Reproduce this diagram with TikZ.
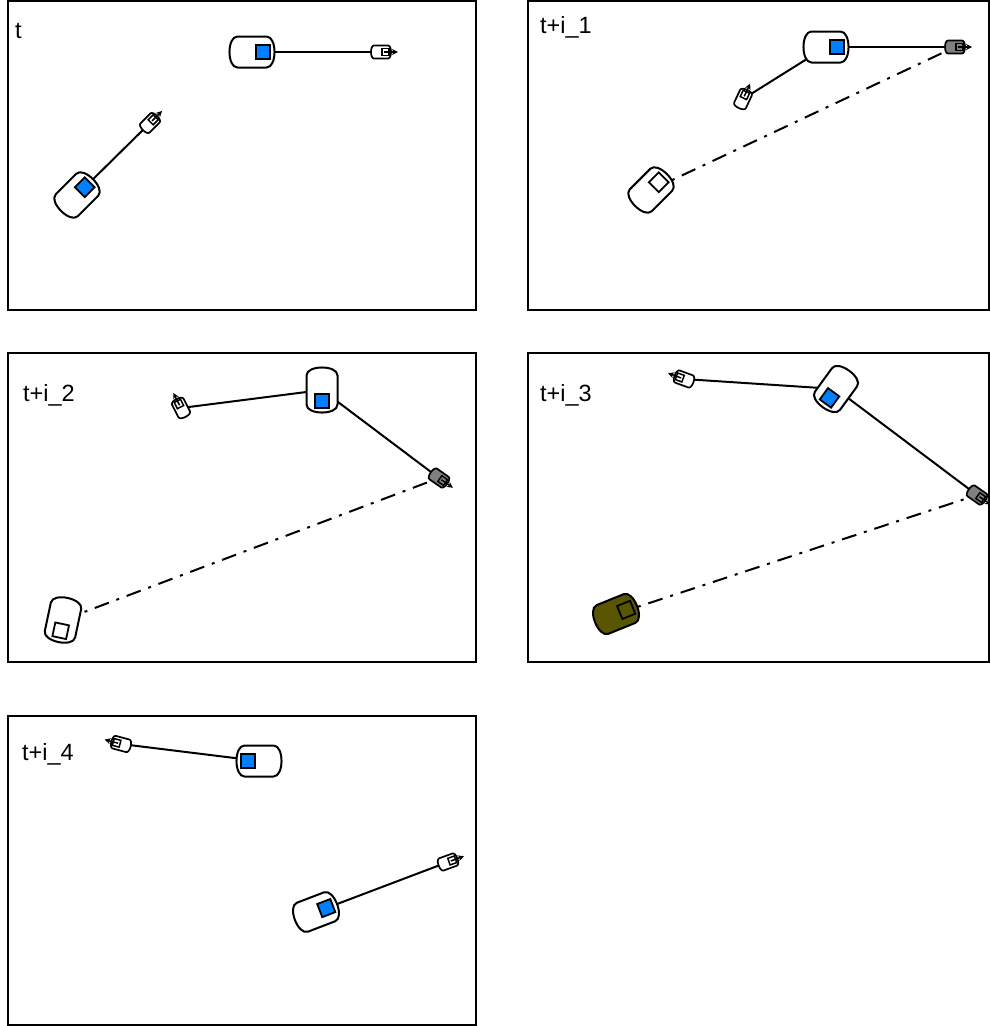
\documentclass[tikz,border=0pt]{standalone}
\usepackage{fontspec}
\setmainfont{Liberation Sans}
\usetikzlibrary{arrows.meta}
\pgfdeclarelayer{background}
\pgfsetlayers{background,main}
\definecolor{sqblue}{RGB}{0,128,255}
\definecolor{plgray}{RGB}{128,128,128}
\definecolor{ghostolive}{RGB}{90,85,0}

\tikzset{
  % capsule-shaped vehicle with a marker square at its front
  pics/robot/.style 2 args={code={
    \path[draw=black, line width=2pt, fill=#1, line join=round]
      (-14.5,-15.5) -- (14.5,-15.5)
      .. controls (25.2,-15.5) and (25.2,15.5) .. (14.5,15.5)
      -- (-14.5,15.5)
      .. controls (-25.2,15.5) and (-25.2,-15.5) .. (-14.5,-15.5) -- cycle;
    \path[draw=black, line width=1.8pt, fill=#2] (4,-7) rectangle (18,7);
    \coordinate (-c) at (0,0);
  }},
  % small tethered probe with a pointer tip
  pics/plug/.style={code={
    \path[draw=black, line width=1.7pt, fill=#1, line join=round]
      (-7,-6.5) -- (7,-6.5)
      .. controls (11,-6.5) and (11,6.5) .. (7,6.5)
      -- (-7,6.5)
      .. controls (-11,6.5) and (-11,-6.5) .. (-7,-6.5) -- cycle;
    \draw[line width=1.5pt] (1,-3.5) rectangle (8,3.5);
    \draw[line width=1.5pt, -{Stealth[length=6pt,width=6pt]}] (3,0) -- (17,0);
    \coordinate (-c) at (0,0);
  }},
  frame/.style={draw, line width=2pt, inner sep=0pt, outer sep=0pt, anchor=north west},
  leftframe/.style={frame, minimum width=468pt, minimum height=309pt},
  rightframe/.style={frame, minimum width=461pt, minimum height=309pt},
  stamp/.style={anchor=base west, inner sep=0pt, font=\fontsize{23.5}{28}\selectfont},
  tether/.style={line width=2pt},
  trail/.style={line width=2pt, dash pattern=on 15pt off 8pt on 3pt off 8pt},
}

\begin{document}
\begin{tikzpicture}[x=1pt, y=-1pt]
\useasboundingbox (0,0) rectangle (990,1026);

% panel frames
\node[leftframe]  (frame1) at (8,1) {};
\node[rightframe] (frame2) at (528,1) {};
\node[leftframe]  (frame3) at (8,353) {};
\node[rightframe] (frame4) at (528,353) {};
\node[leftframe]  (frame5) at (8,716) {};

% time stamps
\node[stamp] (lab1) at (15,38)  {t};
\node[stamp] (lab2) at (540,33) {t+i\_1};
\node[stamp] (lab3) at (23,401) {t+i\_2};
\node[stamp] (lab4) at (540,401) {t+i\_3};
\node[stamp] (lab5) at (22,760) {t+i\_4};

% ---- panel t
\pic (ra) at (252,52) {robot={white}{sqblue}};
\pic (pa) at (381,52) {plug=white};
\pic[rotate=45] (rb) at (77,195) {robot={white}{sqblue}};
\pic[rotate=45] (pb) at (150,123) {plug=white};

% ---- panel t+i_1
\pic (rc) at (826,47) {robot={white}{sqblue}};
\pic (pc) at (955,47) {plug=plgray};
\pic[rotate=65] (pd) at (743,99) {plug=white};
\pic[rotate=45] (gc) at (651,190) {robot={white}{white}};

% ---- panel t+i_2
\pic[rotate=-90] (re) at (322,390) {robot={white}{sqblue}};
\pic[rotate=117] (pe) at (181,408) {plug=white};
\pic[rotate=-35] (pf) at (439,478) {plug=plgray};
\pic[rotate=-102] (ge) at (63,620) {robot={white}{white}};

% ---- panel t+i_3
\pic[rotate=-126] (rg) at (836,389) {robot={white}{sqblue}};
\pic[rotate=160] (pg) at (684,379) {plug=white};
\pic[rotate=-35] (ph) at (977,495) {plug=plgray};
\pic[rotate=22] (gg) at (616,614) {robot={ghostolive}{ghostolive}};

% ---- panel t+i_4
\pic[rotate=180] (ri) at (259,761) {robot={white}{sqblue}};
\pic[rotate=165] (pi) at (121,744) {plug=white};
\pic[rotate=21] (rj) at (316,912) {robot={white}{sqblue}};
\pic[rotate=20] (pj) at (448,862) {plug=white};

% tethers and trails, drawn beneath the vehicles
\begin{pgfonlayer}{background}
  \draw[tether] (ra-c) -- (pa-c);
  \draw[tether] (rb-c) -- (pb-c);
  \draw[tether] (rc-c) -- (pc-c);
  \draw[tether] (rc-c) -- (pd-c);
  \draw[trail]  (gc-c) -- (pc-c);
  \draw[tether] (re-c) -- (pe-c);
  \draw[tether] (re-c) -- (pf-c);
  \draw[trail]  (ge-c) -- (pf-c);
  \draw[tether] (rg-c) -- (pg-c);
  \draw[tether] (rg-c) -- (ph-c);
  \draw[trail]  (gg-c) -- (ph-c);
  \draw[tether] (ri-c) -- (pi-c);
  \draw[tether] (rj-c) -- (pj-c);
\end{pgfonlayer}
\end{tikzpicture}
\end{document}
